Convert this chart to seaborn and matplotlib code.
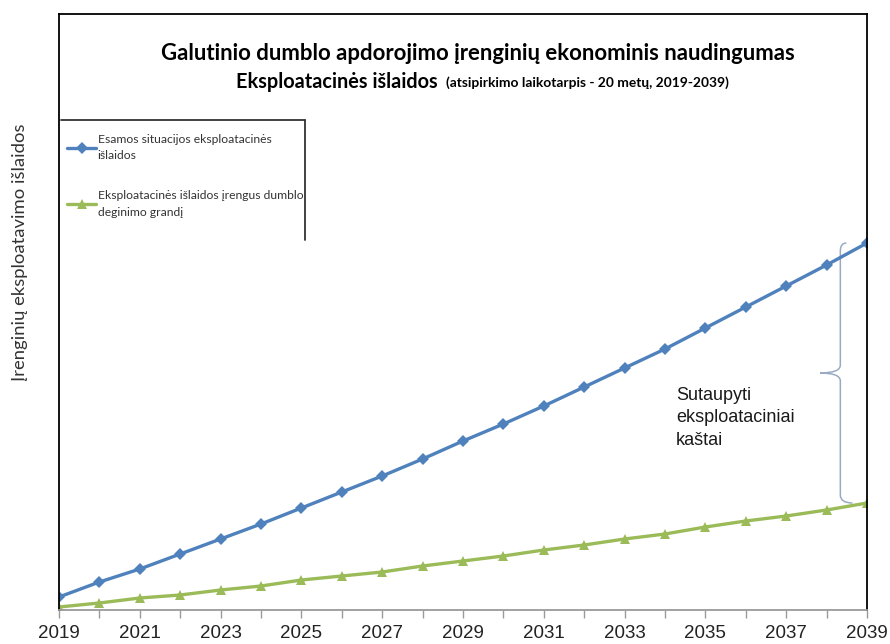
import matplotlib
matplotlib.use("Agg")
import matplotlib.pyplot as plt
from matplotlib.path import Path
from matplotlib.patches import PathPatch
from matplotlib.lines import Line2D
import pandas as pd
import seaborn as sns

# Years of the payback period
years = list(range(2019, 2040))

# Cumulative operating costs (relative units)
current_costs = [13, 28, 41, 56, 71, 86, 102, 118, 134, 151, 169,
                 186, 204, 223, 242, 261, 282, 303, 324, 345, 367]
with_incineration = [3, 7, 12, 15, 20, 24, 30, 34, 38, 44, 49,
                     54, 60, 65, 71, 76, 83, 89, 94, 100, 107]

series_names = [
    "Esamos situacijos eksploatacinės\nišlaidos",
    "Eksploatacinės išlaidos įrengus dumblo\ndeginimo grandį",
]
tick_years = list(range(2019, 2040, 2))

df = pd.DataFrame({
    "Metai": years * 2,
    "Išlaidos": current_costs + with_incineration,
    "Serija": [series_names[0]] * len(years) + [series_names[1]] * len(years),
})

sns.set_style("white")
plt.rcParams["font.family"] = ["Lato", "DejaVu Sans"]

W, H = 890, 644
fig = plt.figure(figsize=(W / 100, H / 100), dpi=100)
ax = fig.add_axes([59 / W, 1 - 610 / H, (867 - 59) / W, (610 - 14) / H])

palette = {series_names[0]: "#4F81BD", series_names[1]: "#9BBB59"}
markers = {series_names[0]: "D", series_names[1]: "^"}
sns.lineplot(data=df, x="Metai", y="Išlaidos", hue="Serija", style="Serija",
             palette=palette, markers=markers, dashes=False, linewidth=2.4,
             markersize=6.5, markeredgewidth=0, ax=ax)

ax.set_xlim(years[0], years[-1])
ax.set_ylim(0, 596)
ax.set_xlabel("")
ax.set_ylabel("")
ax.set_yticks([])
ax.set_xticks(years, minor=True)
ax.set_xticks(tick_years)
ax.set_xticklabels([str(y) for y in tick_years],
                   family=["Liberation Sans", "DejaVu Sans"],
                   fontsize=13.5, color="#222222")
ax.tick_params(axis="x", which="both", direction="out", length=6, width=1,
               color="#9a9a9a", bottom=True, pad=4.5)
for side in ("left", "right", "top"):
    ax.spines[side].set_color("black")
    ax.spines[side].set_linewidth(1.3)
ax.spines["bottom"].set_color("#9a9a9a")
ax.spines["bottom"].set_linewidth(1.3)

# Legend with only top and right border lines
handles, labels = ax.get_legend_handles_labels()
leg = ax.legend(handles, labels, loc="upper left",
                bbox_to_anchor=(67 / W, 1 - 134 / H), bbox_transform=fig.transFigure,
                frameon=False, fontsize=8.7, handlelength=2.4, handletextpad=0.15,
                labelspacing=2.4, borderaxespad=0, borderpad=0)
for t in leg.get_texts():
    t.set_color("#333333")
    t.set_linespacing(1.6)
fig.add_artist(Line2D([61 / W, 305 / W], [1 - 120 / H, 1 - 120 / H],
                      transform=fig.transFigure, color="#333333", lw=1.3))
fig.add_artist(Line2D([305 / W, 305 / W], [1 - 120 / H, 1 - 240 / H],
                      transform=fig.transFigure, color="#333333", lw=1.3))

# Curly brace marking the savings between the two series at the last year
top = current_costs[-1]
bot = with_incineration[-1]
mid = (top + bot) / 2
xv = years[-1] - 0.66
r = 8
verts = [
    (xv + 0.15, top), (xv, top), (xv, top - r),
    (xv, mid + r),
    (xv, mid), (xv - 0.5, mid),
    (xv, mid), (xv, mid - r),
    (xv, bot + r),
    (xv, bot), (xv + 0.3, bot),
]
codes = [Path.MOVETO, Path.CURVE3, Path.CURVE3,
         Path.LINETO,
         Path.CURVE3, Path.CURVE3,
         Path.CURVE3, Path.CURVE3,
         Path.LINETO,
         Path.CURVE3, Path.CURVE3]
ax.add_patch(PathPatch(Path(verts, codes), fill=False, edgecolor="#9aaac4", lw=1.1))

ax.text(2034.27, mid - 45, "Sutaupyti\neksploataciniai\nkaštai",
        family=["Liberation Sans", "DejaVu Sans"], fontsize=13, color="#1a1a1a",
        va="center", ha="left", linespacing=1.45)

# Title inside the plot frame
fig.text(477.5 / W, 1 - 53 / H,
         "Galutinio dumblo apdorojimo įrenginių ekonominis naudingumas",
         ha="center", va="center", fontsize=15.9, fontweight="bold", color="black")
fig.text(438 / W, 1 - 82 / H, "Eksploatacinės išlaidos",
         ha="right", va="center", fontsize=14.3, fontweight="bold", color="black")
fig.text(446 / W, 1 - 83 / H, "(atsipirkimo laikotarpis - 20 metų, 2019-2039)",
         ha="left", va="center", fontsize=9.9, fontweight="bold", color="black")

fig.text(20 / W, 1 - 252 / H, "Įrenginių eksploatavimo išlaidos",
         rotation=90, ha="center", va="center", fontsize=13.3, color="#333333")

fig.savefig("out.png", dpi=100)
